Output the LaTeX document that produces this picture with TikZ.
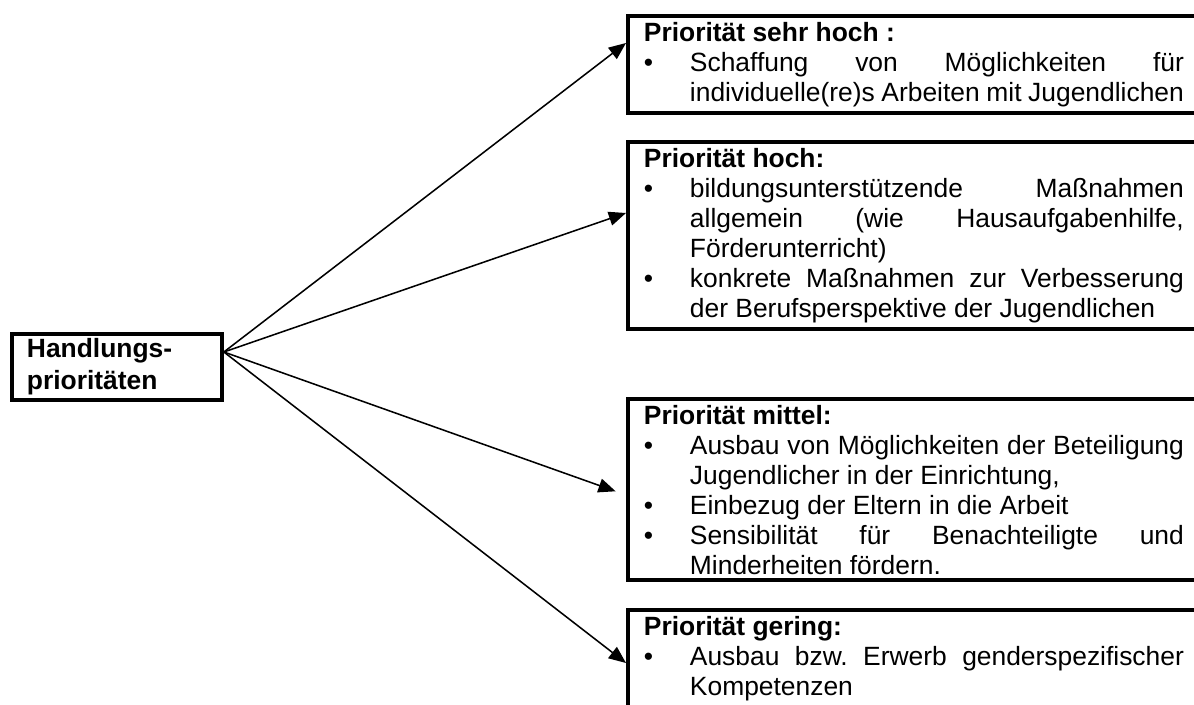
\documentclass[tikz,border=0pt]{standalone}
\usepackage{fontspec}
\setmainfont{Liberation Sans}
\usepackage{tikz}
\usetikzlibrary{
    positioning,
    arrows.meta,
}
\hyphenpenalty=10000
\exhyphenpenalty=10000
\tolerance=9999
\frenchspacing
\newcommand{\bul}[1]{\par\noindent\hangindent=20.9pt\hangafter=1\makebox[20.9pt][l]{\textbullet}#1\par}

\begin{document}
\begin{tikzpicture}[
    x=0.4545pt, y=-0.4545pt,
    prio/.style={rectangle, draw, line width=1.8pt, anchor=north west,
                 text width=245.4pt, inner xsep=7.27pt, inner ysep=2.73pt,
                 align=justify, font=\fontsize{12}{13.64}\selectfont},
    root/.style={rectangle, draw, line width=1.8pt, anchor=north west,
                 text width=81.8pt, inner xsep=6.8pt, inner ysep=0pt,
                 minimum width=95.4pt, minimum height=30pt, align=left,
                 font=\bfseries\fontsize{12}{14.5}\selectfont},
    arrow/.style={-{Triangle[length=7.8pt, width=6.4pt]}, line width=0.7pt},
]
    \clip (0,0) rectangle (1194,705);

    % Root
    \node[root] (hp) at (10,332) {Handlungs-\\prioritäten};
    \coordinate (src) at (hp.east |- 0,352);

    % Priorities
    \node[prio] (b1) at (626,14) {\textbf{Priorität sehr hoch :}
        \bul{Schaffung von Möglichkeiten für\linebreak individuelle(re)s Arbeiten mit Jugendlichen}};
    \node[prio] (b2) at (626,140) {\textbf{Priorität hoch:}
        \bul{bildungsunterstützende Maßnahmen\linebreak allgemein (wie Hausaufgabenhilfe,\linebreak Förderunterricht)}
        \bul{konkrete Maßnahmen zur Verbesserung\linebreak der Berufsperspektive der Jugendlichen}};
    \node[prio] (b3) at (626,397) {\textbf{Priorität mittel:}
        \bul{Ausbau von Möglichkeiten der Beteiligung\linebreak Jugendlicher in der Einrichtung,}
        \bul{Einbezug der Eltern in die Arbeit}
        \bul{Sensibilität für Benachteiligte und\linebreak Minderheiten fördern.}};
    \node[prio] (b4) at (626,608) {\textbf{Priorität gering:}
        \bul{Ausbau bzw. Erwerb genderspezifischer\linebreak Kompetenzen}\vspace*{20pt}};

    % Arrows
    \draw[arrow] (src) -- (b1.west |- 0,43);
    \draw[arrow] (src) -- (b2.west |- 0,213);
    \draw[arrow, shorten >=5pt] (src) -- (b3.west |- 0,495);
    \draw[arrow] (src) -- (b4.west |- 0,663);
\end{tikzpicture}
\end{document}
